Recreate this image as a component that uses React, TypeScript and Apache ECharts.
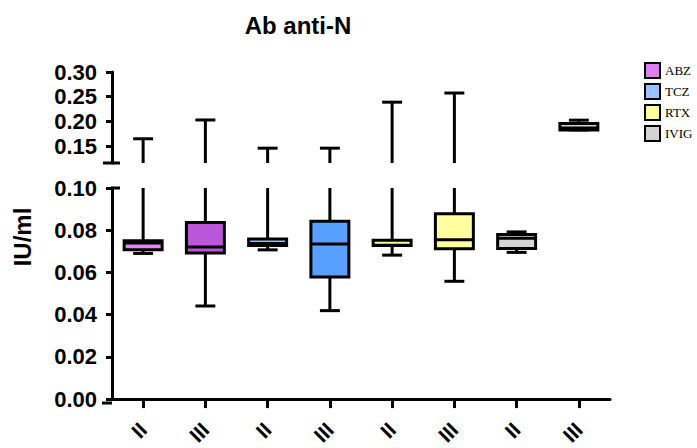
import React, { useEffect, useRef } from 'react';
import * as echarts from 'echarts';

// ---- data ----
const categories = ['II', 'III', 'II', 'III', 'II', 'III', 'II', 'III'];
const groups = ['ABZ', 'ABZ', 'TCZ', 'TCZ', 'RTX', 'RTX', 'IVIG', 'IVIG'];
const mins = [0.069, 0.0441, 0.0707, 0.0419, 0.0682, 0.0558, 0.0695, 0.1829];
const q1s = [0.0707, 0.0692, 0.0727, 0.0578, 0.0727, 0.0712, 0.0713, 0.1829];
const medians = [0.0739, 0.072, 0.0737, 0.0735, 0.0729, 0.0755, 0.0762, 0.187];
const q3s = [0.075, 0.0836, 0.0758, 0.0843, 0.0752, 0.0878, 0.078, 0.1959];
const maxs = [0.165, 0.203, 0.146, 0.146, 0.239, 0.2575, 0.0792, 0.2026];
const boxFills = ['#E285F5', '#B957D8', '#8EC0FA', '#57A0FF', '#FFFFA0', '#FFFFA0', '#D3D3D3', '#D3D3D3'];
const legendNames = ['ABZ', 'TCZ', 'RTX', 'IVIG'];
const legendFills = ['#DC80F2', '#98C4FF', '#FFFFA0', '#D3D3D3'];
const upperTicks = [0.15, 0.2, 0.25, 0.3];
const upperRange = [0.116, 0.3];
const lowerRange = [0, 0.1];

// ---- layout ----
const W = 697, H = 448;
const gridLeft = 112, gridRight = W - 610;
const upperTop = 72, upperHeight = 91;
const lowerTop = 188, lowerHeight = 215;
const FONT = '"Liberation Sans", Arial, sans-serif';

function makeRender(lo: number, hi: number) {
  return (params: any, api: any) => {
    const ci = api.value(0);
    const mn = api.value(1), a = api.value(2), md = api.value(3), b = api.value(4), mx = api.value(5);
    const fill = boxFills[ci];
    const bw = api.size([1, 0])[0];
    const boxW = bw * 0.61, capW = bw * 0.32;
    const cx = api.coord([ci, lo])[0];
    const y = (v: number) => api.coord([ci, v])[1];
    const eps = 1e-9;
    const inR = (v: number) => v >= lo - eps && v <= hi + eps;
    const ls = { stroke: '#000', lineWidth: 3 };
    const children: any[] = [];
    const uw0 = Math.max(b, lo), uw1 = Math.min(mx, hi);
    if (uw1 > uw0) children.push({ type: 'line', shape: { x1: cx, y1: y(uw0), x2: cx, y2: y(uw1) }, style: ls });
    const lw0 = Math.max(mn, lo), lw1 = Math.min(a, hi);
    if (lw1 > lw0) children.push({ type: 'line', shape: { x1: cx, y1: y(lw0), x2: cx, y2: y(lw1) }, style: ls });
    if (inR(mx)) children.push({ type: 'line', shape: { x1: cx - capW / 2, y1: y(mx), x2: cx + capW / 2, y2: y(mx) }, style: ls });
    if (inR(mn)) children.push({ type: 'line', shape: { x1: cx - capW / 2, y1: y(mn), x2: cx + capW / 2, y2: y(mn) }, style: ls });
    if (inR(a) && inR(b)) {
      children.push({
        type: 'rect',
        shape: { x: cx - boxW / 2, y: y(b), width: boxW, height: y(a) - y(b) },
        style: { fill, stroke: '#000', lineWidth: 3 },
      });
      if (inR(md)) children.push({ type: 'line', shape: { x1: cx - boxW / 2, y1: y(md), x2: cx + boxW / 2, y2: y(md) }, style: ls });
    }
    return { type: 'group', children };
  };
}

function seriesFor(gridIdx: number, lo: number, hi: number) {
  return legendNames.map((name) => ({
    type: 'custom',
    name,
    xAxisIndex: gridIdx,
    yAxisIndex: gridIdx,
    renderItem: makeRender(lo, hi),
    encode: { x: 0, y: [1, 2, 3, 4, 5] },
    itemStyle: { color: legendFills[legendNames.indexOf(name)] },
    data: categories
      .map((_, i) => i)
      .filter((i) => groups[i] === name)
      .map((i) => [i, mins[i], q1s[i], medians[i], q3s[i], maxs[i]]),
  }));
}

export default function App() {
  const ref = useRef<HTMLDivElement>(null);
  useEffect(() => {
    if (!ref.current) return;
    const chart = echarts.init(ref.current, undefined, { renderer: 'svg' });
    const axisLine = { show: true, lineStyle: { color: '#000', width: 3 } };
    const yLabel = { color: '#000', fontSize: 22, fontWeight: 'bold', fontFamily: FONT, margin: 15, formatter: (v: number) => v.toFixed(2) };
    chart.setOption({
      animation: false,
      backgroundColor: '#fff',
      grid: [
        { left: gridLeft, right: gridRight, top: upperTop, height: upperHeight },
        { left: gridLeft, right: gridRight, top: lowerTop, height: lowerHeight },
      ],
      xAxis: [
        { type: 'category', gridIndex: 0, data: categories, show: false },
        {
          type: 'category',
          gridIndex: 1,
          data: categories,
          axisLine,
          axisTick: { show: true, alignWithLabel: true, length: 9, lineStyle: { color: '#000', width: 3 } },
          axisLabel: { rotate: 45, margin: 27, color: '#000', fontSize: 21, fontWeight: 'bold', fontFamily: FONT, interval: 0 },
          splitLine: { show: false },
        },
      ],
      yAxis: [
        {
          type: 'value',
          gridIndex: 0,
          min: upperRange[0],
          max: upperRange[1],
          axisLine,
          axisTick: { show: true, length: 6, lineStyle: { color: '#000', width: 3 }, customValues: upperTicks },
          axisLabel: { ...yLabel, customValues: upperTicks },
          splitLine: { show: false },
        },
        {
          type: 'value',
          gridIndex: 1,
          min: lowerRange[0],
          max: lowerRange[1],
          interval: 0.02,
          axisLine,
          axisTick: { show: true, length: 6, lineStyle: { color: '#000', width: 3 } },
          axisLabel: yLabel,
          splitLine: { show: false },
        },
      ],
      legend: {
        orient: 'vertical',
        left: 639,
        top: 57,
        itemWidth: 15,
        itemHeight: 15,
        itemGap: 4,
        icon: 'rect',
        selectedMode: false,
        textStyle: { color: '#000', fontSize: 13, fontFamily: '"Liberation Serif", "Times New Roman", serif' },
        data: legendNames.map((n, i) => ({ name: n, itemStyle: { color: legendFills[i], borderColor: '#000', borderWidth: 2 } })),
      },
      graphic: [
        { type: 'text', x: 298, y: 25, style: { text: 'Ab anti-N', fill: '#000', font: `bold 24px ${FONT}`, textAlign: 'center', textVerticalAlign: 'middle' } },
        { type: 'text', x: 22, y: 237, rotation: Math.PI / 2, style: { text: 'IU/ml', fill: '#000', font: `bold 24px ${FONT}`, textAlign: 'center', textVerticalAlign: 'middle' } },
        { type: 'line', shape: { x1: gridLeft - 9, y1: upperTop + upperHeight, x2: gridLeft + 8, y2: upperTop + upperHeight }, style: { stroke: '#000', lineWidth: 3 } },
        { type: 'line', shape: { x1: gridLeft - 1, y1: lowerTop, x2: gridLeft + 8, y2: lowerTop }, style: { stroke: '#000', lineWidth: 3 } },
        { type: 'line', shape: { x1: gridLeft - 10, y1: lowerTop + lowerHeight, x2: gridLeft, y2: lowerTop + lowerHeight }, style: { stroke: '#000', lineWidth: 3 } },
      ],
      series: [...seriesFor(0, upperRange[0], upperRange[1]), ...seriesFor(1, lowerRange[0], lowerRange[1])],
    });
    return () => chart.dispose();
  }, []);
  return <div ref={ref} style={{ position: 'fixed', left: 0, top: 0, width: W, height: H }} />;
}
